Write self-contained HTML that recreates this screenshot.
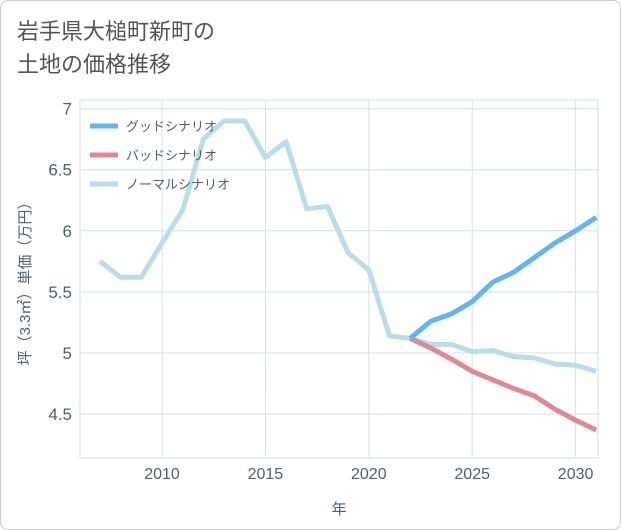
<!DOCTYPE html>
<html><head><meta charset="utf-8">
<style>
body{margin:0;background:#fff;}
#wrap{position:relative;width:619px;height:528px;border:1px solid #ccc;border-radius:8px;background:#fff;overflow:hidden;font-family:"Liberation Sans","Noto Sans CJK JP",sans-serif;}
#title{position:absolute;left:16px;top:14px;font-size:22px;line-height:33px;color:#555;}
svg text{font-family:"Liberation Sans","Noto Sans CJK JP",sans-serif;}
</style></head><body>
<div id="wrap">
<div id="title">岩手県大槌町新町の<br>土地の価格推移</div>
<svg id="chart" width="621" height="530" style="position:absolute;left:-1px;top:-1px"></svg>
</div>
<script>
const years=[2007,2008,2009,2010,2011,2012,2013,2014,2015,2016,2017,2018,2019,2020,2021,2022,2023,2024,2025,2026,2027,2028,2029,2030,2031];
const normalVals=[5.75,5.62,5.62,5.9,6.17,6.75,6.9,6.9,6.6,6.73,6.18,6.2,5.82,5.68,5.14,5.12,5.07,5.07,5.01,5.02,4.97,4.96,4.91,4.90,4.85];
const futureYears=[2022,2023,2024,2025,2026,2027,2028,2029,2030,2031];
const goodVals=[5.12,5.26,5.32,5.42,5.58,5.66,5.78,5.9,6.0,6.11];
const badVals=[5.12,5.04,4.95,4.85,4.78,4.71,4.65,4.54,4.45,4.37];
const xTicks=[2010,2015,2020,2025,2030];
const yTicks=[4.5,5,5.5,6,6.5,7];
const yTickLabels=["4.5","5","5.5","6","6.5","7"];
const legendLabels=["グッドシナリオ","バッドシナリオ","ノーマルシナリオ"];

const L=80,R=598,T=100,B=458;
const x=y=>162+(y-2010)*20.68;
const yv=v=>353-(v-5)*122.2;
const ns="http://www.w3.org/2000/svg";
const svg=document.getElementById('chart');
function mk(t,a,p){const e=document.createElementNS(ns,t);for(const k in a)e.setAttribute(k,a[k]);(p||svg).appendChild(e);return e;}
mk('rect',{x:L,y:T,width:R-L,height:B-T,fill:'#fff',stroke:'#d5dde5'});
xTicks.forEach(t=>{
 const g=mk('line',{x1:x(t),x2:x(t),y1:T,y2:B,stroke:'#d5e1ea'});
 
 const tx=mk('text',{x:x(t),y:479,'text-anchor':'middle','font-size':16,fill:'#4a6178'});tx.textContent=t;
 
});
yTicks.forEach((t,i)=>{
 const g=mk('line',{x1:L,x2:R,y1:yv(t),y2:yv(t),stroke:'#d5e1ea'});
 
 const tx=mk('text',{x:72,y:yv(t)+6,'text-anchor':'end','font-size':17,fill:'#4a6178'});tx.textContent=yTickLabels[i];
 
});
const xt=mk('text',{x:339,y:514,'text-anchor':'middle','font-size':15,fill:'#4a6178'});xt.textContent='年';

const yt=mk('text',{x:0,y:0,transform:'translate(30,280) rotate(-90)','text-anchor':'middle','font-size':15,fill:'#4a6178'});yt.textContent='坪（3.3㎡）単価（万円）';

const clip=mk('clipPath',{id:'c'});mk('rect',{x:L,y:T-5,width:R-L,height:B-T+10},clip);
function line(xs,vs,color,name){
 const p=mk('polyline',{points:xs.map((t,i)=>x(t)+','+yv(vs[i])).join(' '),fill:'none',stroke:color,'stroke-width':5,'stroke-linejoin':'round','clip-path':'url(#c)'});
 
}
line(years,normalVals,'#b9dded','normal-line');
line(futureYears,badVals,'#df8a92','bad-line');
line(futureYears,goodVals,'#63b5ef','good-line');
const lc=['#63b5ef','#df8a92','#b9dded'];
legendLabels.forEach((s,i)=>{
 const yy=126+i*29;
 const l=mk('line',{x1:90,x2:118,y1:yy,y2:yy,stroke:lc[i],'stroke-width':5});
 
 const t=mk('text',{x:126,y:yy+5,'font-size':13,fill:'#4a6178'});t.textContent=s;
 
});
</script>
</body></html>
